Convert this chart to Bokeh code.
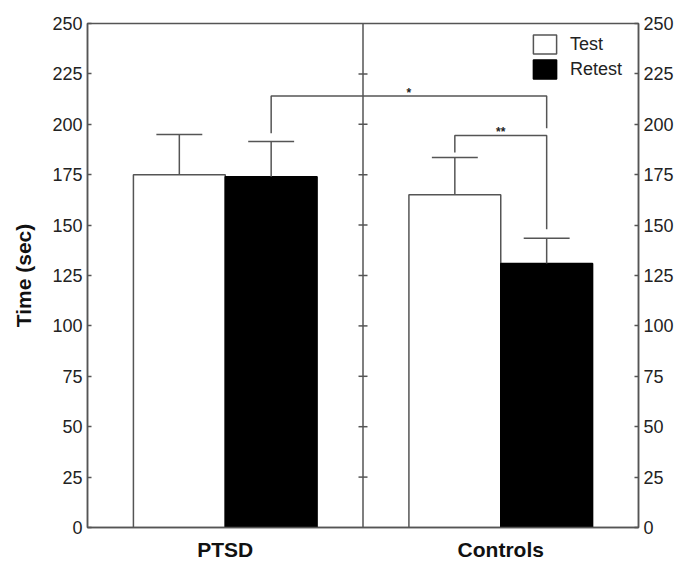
from bokeh.plotting import figure
from bokeh.models import LinearAxis, FixedTicker, Span, Range1d, Legend, LegendItem
from bokeh.core.properties import value
from bokeh.embed import file_html
from bokeh.resources import INLINE

# ---- data ----
groups = ["PTSD", "Controls"]
group_pos = [1.5, 4.5]
conditions = ["Test", "Retest"]
test_mean = [175, 165]
test_err = [20, 18.5]
retest_mean = [174, 131]
retest_err = [17.5, 12.5]
y_ticks = [0, 25, 50, 75, 100, 125, 150, 175, 200, 225, 250]

# significance brackets: bracket top, leg ends
sig_labels = ["*", "**"]
sig_top = [214, 194.5]
sig_left_end = [195.5, 186]
sig_right_end = [198, 148]

FONT = "Liberation Sans"
LINE = "#555555"

bar_w = 1.0
test_x = [g - bar_w / 2 for g in group_pos]
retest_x = [g + bar_w / 2 for g in group_pos]
divider = (group_pos[0] + group_pos[1]) / 2

p = figure(width=680, height=564, x_range=Range1d(0, 6), y_range=Range1d(0, 250),
           output_backend="svg", toolbar_location=None,
           min_border_left=87, min_border_right=42, min_border_top=23, min_border_bottom=37)
p.xgrid.visible = False
p.ygrid.visible = False
p.outline_line_color = LINE
p.outline_line_width = 1.5
p.background_fill_color = "white"
p.border_fill_color = "white"

# bars
r_test = p.vbar(x=test_x, top=test_mean, bottom=0, width=bar_w, fill_color="white",
                line_color=LINE, line_width=1.5)
r_retest = p.vbar(x=retest_x, top=retest_mean, bottom=0, width=bar_w, fill_color="black",
                  line_color="black", line_width=1.5)

# error bars (upper only)
cap = 0.25
for xs, m, e in ((test_x, test_mean, test_err), (retest_x, retest_mean, retest_err)):
    tops = [a + b for a, b in zip(m, e)]
    p.segment(x0=xs, y0=m, x1=xs, y1=tops, line_color=LINE, line_width=1.5)
    p.segment(x0=[x - cap for x in xs], y0=tops, x1=[x + cap for x in xs], y1=tops,
              line_color=LINE, line_width=1.5)

# divider with ticks
p.add_layout(Span(location=divider, dimension="height", line_color=LINE, line_width=1.5))
p.scatter(x=[divider] * (len(y_ticks) - 2), y=y_ticks[1:-1], marker="dash", size=9,
          line_color=LINE, line_width=1.5)

# significance brackets
sig_xl = [retest_x[0], test_x[1]]
sig_xr = [retest_x[1], retest_x[1]]
xs = [[a, a, b, b] for a, b in zip(sig_xl, sig_xr)]
ys = [[le, t, t, re] for le, t, re in zip(sig_left_end, sig_top, sig_right_end)]
p.multi_line(xs=xs, ys=ys, line_color=LINE, line_width=1.5)
p.text(x=[(a + b) / 2 for a, b in zip(sig_xl, sig_xr)], y=sig_top, text=sig_labels,
       text_align="center", text_baseline="alphabetic", y_offset=-3,
       text_font=value(FONT), text_font_size="12px", text_font_style="bold", text_color="#222222")

# legend
legend = Legend(items=[LegendItem(label=conditions[0], renderers=[r_test]),
                       LegendItem(label=conditions[1], renderers=[r_retest])],
                location=(443, 446), padding=0, margin=0, spacing=1,
                glyph_width=29, glyph_height=24, label_standoff=11, label_height=24,
                label_text_font=FONT, label_text_font_size="18px", label_text_color="#222222",
                border_line_color=None, background_fill_alpha=0)
p.add_layout(legend)

# axes
def style_y(ax):
    ax.ticker = FixedTicker(ticks=y_ticks)
    ax.axis_line_color = LINE
    ax.axis_line_width = 1.5
    ax.major_tick_line_color = LINE
    ax.major_tick_line_width = 1.5
    ax.major_tick_in = 4
    ax.major_tick_out = 0
    ax.minor_tick_line_color = None
    ax.major_label_text_font = FONT
    ax.major_label_text_font_size = "18px"
    ax.major_label_text_color = "#222222"
    ax.major_label_standoff = 5

yl = p.yaxis[0]
style_y(yl)
yl.axis_label = "Time (sec)"
yl.axis_label_text_font = FONT
yl.axis_label_text_font_size = "21px"
yl.axis_label_text_font_style = "bold"
yl.axis_label_text_color = "#111111"
yl.axis_label_standoff = 14

yr = LinearAxis()
style_y(yr)
p.add_layout(yr, "right")

xa = p.xaxis[0]
xa.ticker = FixedTicker(ticks=group_pos)
xa.major_label_overrides = {g: n for g, n in zip(group_pos, groups)}
xa.axis_line_color = LINE
xa.axis_line_width = 1.5
xa.major_tick_line_color = None
xa.minor_tick_line_color = None
xa.major_label_text_font = FONT
xa.major_label_text_font_size = "21px"
xa.major_label_text_font_style = "bold"
xa.major_label_text_color = "#111111"
xa.major_label_standoff = 4

open("out.html", "w").write(file_html(p, INLINE))
